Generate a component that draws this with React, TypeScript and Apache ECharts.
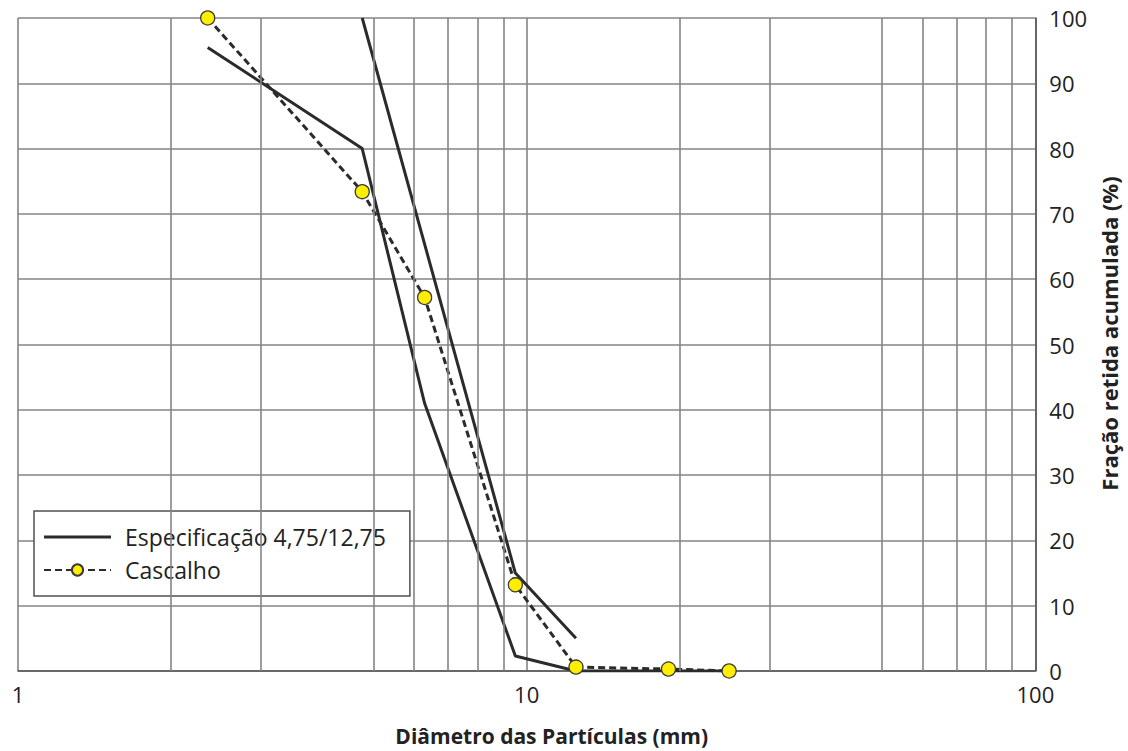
import React, { useEffect, useRef } from "react";
import * as echarts from "echarts";

const SIEVES = [2.36, 4.75, 6.3, 9.5, 12.5, 19, 25];
const CASCALHO = [100, 73.4, 57.2, 13.2, 0.6, 0.3, 0];
const SPEC_LOWER_X = [2.36, 4.75, 6.3, 9.5, 12.5, 19, 25];
const SPEC_LOWER_Y = [95.5, 80, 41, 2.3, 0, 0, 0];
const SPEC_UPPER_X = [4.75, 9.5, 12.5];
const SPEC_UPPER_Y = [100, 15, 5];
const MINOR_GRID_X = [2, 3, 5, 6, 7, 8, 9, 20, 30, 50, 60, 70, 80, 90];
const SPEC_NAME = "Especificação 4,75/12,75";
const CASC_NAME = "Cascalho";

const FONT = "'Open Sans', 'Noto Sans', sans-serif";

export default function App() {
  const ref = useRef<HTMLDivElement>(null);
  useEffect(() => {
    if (!ref.current) return;
    const chart = echarts.init(ref.current, null, { renderer: "svg" });
    const lineDark = "#2b2b2b";
    const gridColor = "#858585";
    chart.setOption({
      animation: false,
      backgroundColor: "#ffffff",
      textStyle: { fontFamily: FONT },
      grid: { left: 18, right: 91, top: 18, bottom: 79, containLabel: false },
      legend: {
        data: [
          { name: SPEC_NAME, icon: "path://M0 0 L67 0 L67 3 L0 3 Z" },
          { name: CASC_NAME },
        ],
        orient: "vertical",
        left: 34,
        top: 511,
        itemWidth: 67,
        itemHeight: 14,
        itemGap: 9,
        padding: [14, 24, 14, 9],
        backgroundColor: "#ffffff",
        borderColor: "#505050",
        borderWidth: 1.5,
        borderRadius: 0,
        textStyle: {
          fontFamily: FONT,
          fontSize: 23,
          color: "#222",
          lineHeight: 24,
          padding: [0, 0, 0, 9],
        },
      },
      xAxis: {
        type: "log",
        logBase: 10,
        min: 1,
        max: 100,
        name: "Diâmetro das Partículas (mm)",
        nameLocation: "middle",
        nameGap: 54,
        nameTextStyle: {
          fontFamily: FONT,
          fontSize: 21,
          fontWeight: "bold",
          color: "#222",
          padding: [0, 0, 0, 50],
        },
        axisLine: { show: true, lineStyle: { color: "#555", width: 1.5 } },
        axisTick: { show: false },
        axisLabel: { fontFamily: FONT, fontSize: 22, color: "#222", margin: 12 },
        splitLine: { show: true, lineStyle: { color: gridColor, width: 1.6 } },
      },
      yAxis: {
        type: "value",
        position: "right",
        min: 0,
        max: 100,
        interval: 10,
        name: "Fração retida acumulada (%)",
        nameLocation: "middle",
        nameRotate: 90,
        nameGap: 58,
        nameTextStyle: {
          fontFamily: FONT,
          fontSize: 22,
          fontWeight: "bold",
          color: "#222",
          padding: [0, 0, 0, 22],
        },
        axisLine: { show: true, lineStyle: { color: "#555", width: 1.5 } },
        axisTick: { show: false },
        axisLabel: { fontFamily: FONT, fontSize: 22, color: "#222", margin: 14 },
        splitLine: { show: true, lineStyle: { color: gridColor, width: 1.6 } },
      },
      series: [
        {
          name: "grid-minor",
          type: "line",
          data: [],
          z: 1,
          silent: true,
          markLine: {
            silent: true,
            symbol: ["none", "none"],
            label: { show: false },
            lineStyle: { color: gridColor, width: 1.6, type: "solid" },
            data: MINOR_GRID_X.map((v) => ({ xAxis: v })),
          },
        },
        {
          name: SPEC_NAME,
          type: "line",
          z: 3,
          showSymbol: false,
          symbol: "none",
          color: lineDark,
          lineStyle: { color: lineDark, width: 3 },
          data: SPEC_LOWER_X.map((x, i) => [x, SPEC_LOWER_Y[i]]),
        },
        {
          name: SPEC_NAME,
          type: "line",
          z: 3,
          showSymbol: false,
          symbol: "none",
          color: lineDark,
          lineStyle: { color: lineDark, width: 3 },
          data: SPEC_UPPER_X.map((x, i) => [x, SPEC_UPPER_Y[i]]),
        },
        {
          name: CASC_NAME,
          type: "line",
          z: 4,
          symbol: "circle",
          symbolSize: 14,
          color: "#ffee00",
          itemStyle: { color: "#ffee00", borderColor: "#3a3a3a", borderWidth: 1.3 },
          lineStyle: { color: lineDark, width: 3, type: [7, 4] },
          data: SIEVES.map((x, i) => [x, CASCALHO[i]]),
        },
      ],
    });
    return () => chart.dispose();
  }, []);
  return (
    <div
      ref={ref}
      style={{ position: "fixed", left: 0, top: 0, width: 1128, height: 751 }}
    />
  );
}
